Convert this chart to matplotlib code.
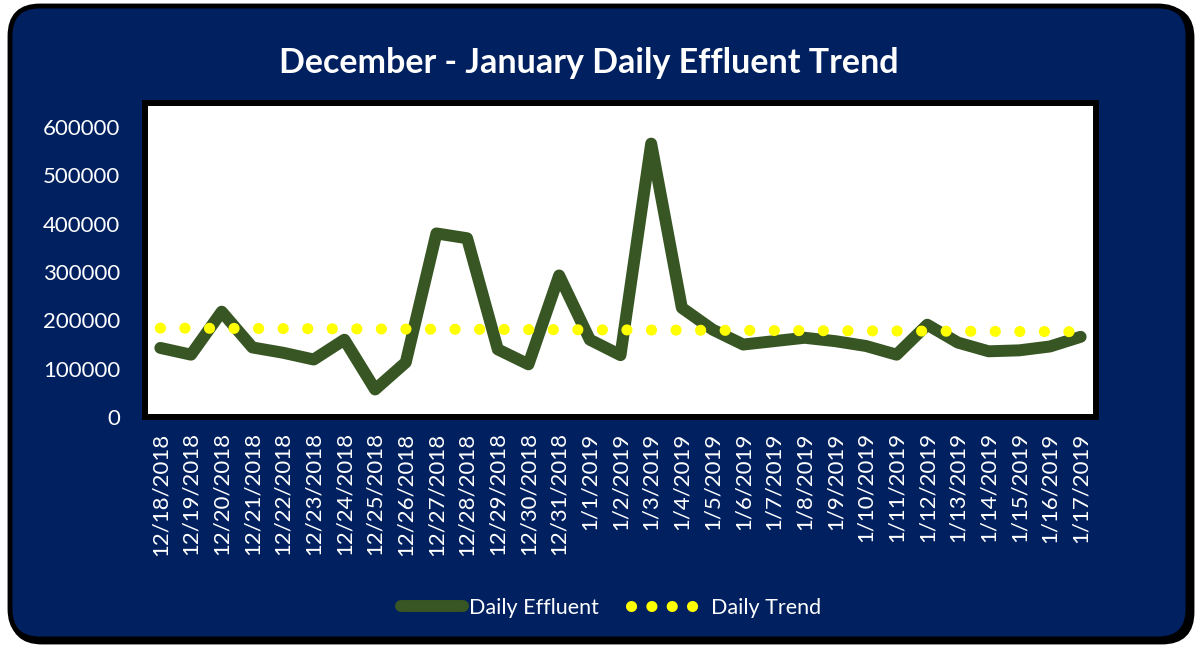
import numpy as np
import matplotlib.pyplot as plt
from matplotlib.patches import FancyBboxPatch

plt.rcParams['font.family'] = ['Lato', 'DejaVu Sans']

dates = ["12/18/2018", "12/19/2018", "12/20/2018", "12/21/2018", "12/22/2018",
         "12/23/2018", "12/24/2018", "12/25/2018", "12/26/2018", "12/27/2018",
         "12/28/2018", "12/29/2018", "12/30/2018", "12/31/2018", "1/1/2019",
         "1/2/2019", "1/3/2019", "1/4/2019", "1/5/2019", "1/6/2019", "1/7/2019",
         "1/8/2019", "1/9/2019", "1/10/2019", "1/11/2019", "1/12/2019",
         "1/13/2019", "1/14/2019", "1/15/2019", "1/16/2019", "1/17/2019"]

effluent = [143000, 129000, 218000, 144000, 133000, 119000, 160000, 57000,
            113000, 380000, 370000, 140000, 109000, 293000, 160000, 128000,
            566000, 226000, 181000, 150000, 157000, 164000, 157000, 147000,
            129000, 191000, 154000, 136000, 138000, 146000, 166000]

trend = [184000, 183800, 183500, 183300, 183000, 182800, 182500, 182300,
         182000, 181800, 181500, 181300, 181000, 180800, 180500, 180300,
         180000, 179800, 179500, 179300, 179000, 178800, 178500, 178300,
         178000, 177800, 177500, 177300, 177000, 176800, 176500]

navy = "#002060"
green = "#375623"

W, H = 1199, 646
fig = plt.figure(figsize=(W / 100, H / 100), dpi=100, facecolor="white")

# rounded navy background box with black outline (plus a small shadow)
shadow = FancyBboxPatch((0.12, 0.04), 11.8, 6.34,
                        boxstyle="round,pad=0,rounding_size=0.3",
                        transform=fig.dpi_scale_trans, facecolor="black",
                        edgecolor="black", linewidth=3.5, zorder=-2)
box = FancyBboxPatch((0.10, 0.07), 11.78, 6.33,
                     boxstyle="round,pad=0,rounding_size=0.3",
                     transform=fig.dpi_scale_trans, facecolor=navy,
                     edgecolor="black", linewidth=3.5, zorder=-1)
fig.patches.extend([shadow, box])

ax = fig.add_axes([145 / W, 1 - 417 / H, 951 / W, 314 / H])
ax.set_zorder(1)
ax.set_facecolor("white")

x = range(len(dates))
ax.plot(x, effluent, color=green, linewidth=8.6, solid_joinstyle="round",
        solid_capstyle="round", label="Daily Effluent", zorder=3)
ax.plot(x, trend, color="#FFFF00", linewidth=8, linestyle=(0, (0.01, 2.2)),
        dash_capstyle="round", label="Daily Trend", zorder=4)

ax.set_xlim(-0.5, len(dates) - 0.5)
ax.set_ylim(0, 650000)
ax.set_yticks([0, 100000, 200000, 300000, 400000, 500000, 600000])
ax.set_yticklabels(["0", "100000", "200000", "300000", "400000", "500000", "600000"])
ax.set_xticks(list(x))
ax.set_xticklabels(dates, rotation=90)
ax.tick_params(axis="y", length=0, pad=18, labelsize=16, labelcolor="white")
ax.tick_params(axis="x", length=0, pad=11, labelsize=16, labelcolor="white")
ax.axhline(0, color="#BFBFBF", linewidth=1.5, zorder=2)

for s in ax.spines.values():
    s.set_color("black")
    s.set_linewidth(4.3)

fig.text(589 / W, 1 - 63 / H, "December - January Daily Effluent Trend",
         ha="center", va="center", color="white", fontsize=24.5, fontweight="bold")

leg = fig.legend(loc="center", bbox_to_anchor=(611 / W, 1 - 608 / H), ncol=2,
                 frameon=False, fontsize=15.5, labelcolor="white",
                 handlelength=2.9, columnspacing=2.0, handletextpad=0.3)
trend_handle = leg.get_lines()[1]
trend_handle.set_linestyle((0, (0.01, 1.82)))
trend_handle.set_xdata(np.asarray(trend_handle.get_xdata()) - 8.3)

fig.savefig("out.png", dpi=100, facecolor="white")
